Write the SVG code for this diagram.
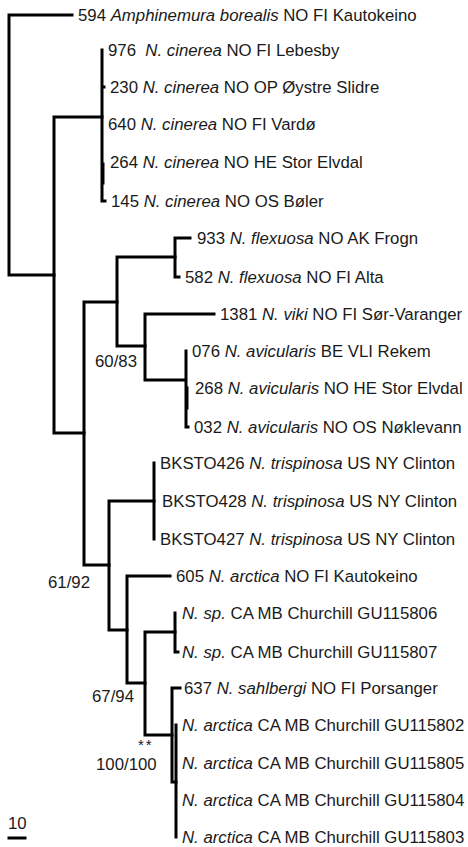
<svg xmlns="http://www.w3.org/2000/svg" width="468" height="847" viewBox="0 0 468 847">
<style>
.br{fill:none;stroke:#000;stroke-width:3;stroke-linecap:square}
text{font-family:"Liberation Sans",Arial,sans-serif;font-size:16.8px;fill:#1a1a1a}
.i{font-style:italic}
</style>
<rect width="468" height="847" fill="#fff"/>
<g id="connectors">
<path class="br" d="M9,15H72M9,15V275H54"/>
<path class="br" d="M54,117V433H84M54,117H102"/>
<path class="br" d="M102,50V201H105M102,87H104"/>
<path class="br" d="M103,164V183" stroke-width="4"/>
<path class="br" d="M84,302V565H109M84,302H117"/>
<path class="br" d="M117,257V346H145M117,257H175"/>
<path class="br" d="M175,238V277H179M175,238H190"/>
<path class="br" d="M145,314V380H185M145,314H214"/>
<path class="br" d="M186,351V427H188"/>
<path class="br" d="M187,388V408" stroke-width="4"/>
<path class="br" d="M109,501V630H127M109,501H154"/>
<path class="br" d="M154,463V539"/>
<path class="br" d="M127,576V683H145M127,576H170"/>
<path class="br" d="M145,632V735H172M145,632H175"/>
<path class="br" d="M175,613V652H178"/>
<path class="br" d="M172,688V782H176M172,688H180"/>
<path class="br" d="M176,725V837"/>
<path class="br" d="M9,838H25"/>
</g>
<g id="n594"><text x="78" y="21">594 <tspan class="i">Amphinemura borealis</tspan> NO FI Kautokeino</text></g>
<g id="n976"><text x="108" y="56" xml:space="preserve">976  <tspan class="i">N. cinerea</tspan> NO FI Lebesby</text></g>
<g id="n230"><text x="110" y="93">230 <tspan class="i">N. cinerea</tspan> NO OP Øystre Slidre</text></g>
<g id="n640"><text x="108" y="130">640 <tspan class="i">N. cinerea</tspan> NO FI Vardø</text></g>
<g id="n264"><text x="110" y="168">264 <tspan class="i">N. cinerea</tspan> NO HE Stor Elvdal</text></g>
<g id="n145"><text x="111" y="207">145 <tspan class="i">N. cinerea</tspan> NO OS Bøler</text></g>
<g id="n933"><text x="197" y="244">933 <tspan class="i">N. flexuosa</tspan> NO AK Frogn</text></g>
<g id="n582"><text x="185" y="283">582 <tspan class="i">N. flexuosa</tspan> NO FI Alta</text></g>
<g id="n1381"><text x="220" y="320">1381 <tspan class="i">N. viki</tspan> NO FI Sør-Varanger</text></g>
<g id="n076"><text x="192" y="357">076 <tspan class="i">N. avicularis</tspan> BE VLI Rekem</text></g>
<g id="n268"><text x="195" y="394">268 <tspan class="i">N. avicularis</tspan> NO HE Stor Elvdal</text></g>
<g id="n032"><text x="194" y="433">032 <tspan class="i">N. avicularis</tspan> NO OS Nøklevann</text></g>
<g id="n426"><text x="160" y="469">BKSTO426 <tspan class="i">N. trispinosa</tspan> US NY Clinton</text></g>
<g id="n428"><text x="162" y="507">BKSTO428 <tspan class="i">N. trispinosa</tspan> US NY Clinton</text></g>
<g id="n427"><text x="160" y="545">BKSTO427 <tspan class="i">N. trispinosa</tspan> US NY Clinton</text></g>
<g id="n605"><text x="176" y="582">605 <tspan class="i">N. arctica</tspan> NO FI Kautokeino</text></g>
<g id="n806"><text x="182" y="619"><tspan class="i">N. sp.</tspan> CA MB Churchill GU115806</text></g>
<g id="n807"><text x="182" y="658"><tspan class="i">N. sp.</tspan> CA MB Churchill GU115807</text></g>
<g id="n637"><text x="184" y="694">637 <tspan class="i">N. sahlbergi</tspan> NO FI Porsanger</text></g>
<g id="n802"><text x="182" y="731"><tspan class="i">N. arctica</tspan> CA MB Churchill GU115802</text></g>
<g id="n805"><text x="182" y="769"><tspan class="i">N. arctica</tspan> CA MB Churchill GU115805</text></g>
<g id="n804"><text x="182" y="806"><tspan class="i">N. arctica</tspan> CA MB Churchill GU115804</text></g>
<g id="n803"><text x="182" y="843"><tspan class="i">N. arctica</tspan> CA MB Churchill GU115803</text></g>
<g id="labels">
<text x="95" y="367">60/83</text>
<text x="48" y="588">61/92</text>
<text x="92" y="702">67/94</text>
<text x="138" y="750" style="font-size:15px;letter-spacing:2px">**</text>
<text x="96" y="770">100/100</text>
<text x="8" y="829">10</text>
</g>
</svg>
